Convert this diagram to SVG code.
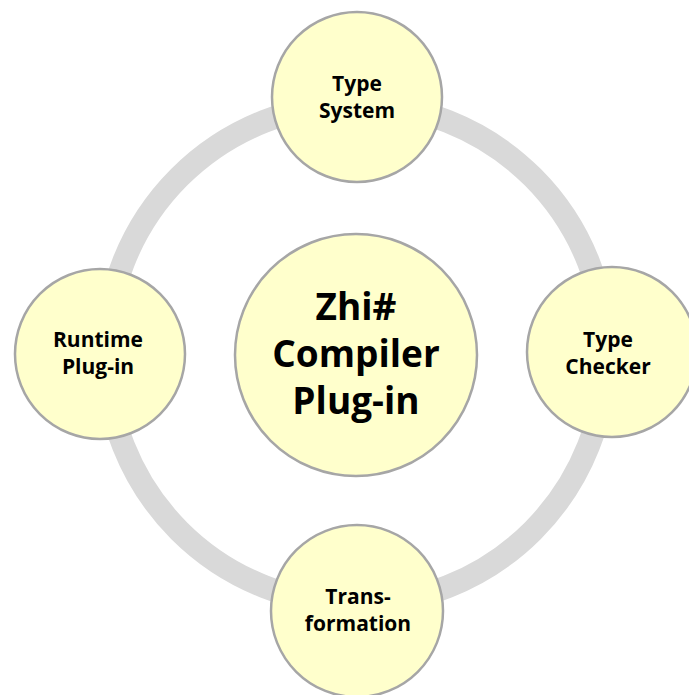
<svg xmlns="http://www.w3.org/2000/svg" width="689" height="695" viewBox="0 0 689 695">
  <style>
    .node { fill: #ffffcc; stroke: #a6a6a6; stroke-width: 2.5; }
    .label { font-family: "Open Sans", "Noto Sans", sans-serif; font-weight: bold; fill: #000; text-anchor: middle; }
    .small { font-size: 21px; }
    .big { font-size: 37px; }
    .ring { fill: none; stroke: #d9d9d9; stroke-width: 23; }
  </style>
  <rect width="689" height="695" fill="#ffffff"/>
  <g id="connectors">
    <circle class="ring" cx="356" cy="354" r="250"/>
  </g>
  <g id="center">
    <circle class="node" cx="356" cy="355" r="121"/>
    <text class="label big" x="356" y="320">Zhi#</text>
    <text class="label big" x="356" y="367">Compiler</text>
    <text class="label big" x="356" y="414">Plug-in</text>
  </g>
  <g id="type-system">
    <circle class="node" cx="357" cy="97" r="85"/>
    <text class="label small" x="357" y="91">Type</text>
    <text class="label small" x="357" y="118">System</text>
  </g>
  <g id="type-checker">
    <circle class="node" cx="612" cy="352" r="85"/>
    <text class="label small" x="608" y="347">Type</text>
    <text class="label small" x="608" y="374">Checker</text>
  </g>
  <g id="transformation">
    <circle class="node" cx="357" cy="611" r="86"/>
    <text class="label small" x="358" y="604">Trans-</text>
    <text class="label small" x="358" y="631">formation</text>
  </g>
  <g id="runtime-plugin">
    <circle class="node" cx="100" cy="354" r="85"/>
    <text class="label small" x="98" y="347">Runtime</text>
    <text class="label small" x="98" y="374">Plug-in</text>
  </g>
</svg>
